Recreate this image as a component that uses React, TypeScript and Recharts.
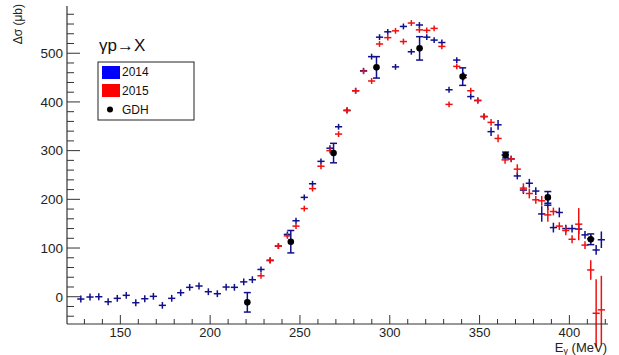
import { ScatterChart, Scatter, XAxis, YAxis, ErrorBar } from 'recharts';

const FONT = '"Liberation Sans", Arial, Helvetica, sans-serif';

// photon energy bins (MeV), shared by both beam times
const energies = [
  128.0, 133.1, 138.0, 143.2, 148.3, 153.3, 158.6, 163.6, 168.4, 173.4,
  178.6, 183.6, 188.6, 193.8, 199.0, 204.0, 208.9, 213.5, 218.7, 223.5,
  228.3, 233.4, 238.0, 243.0, 247.8, 252.4, 257.0, 261.7, 266.7, 271.5,
  276.2, 281.0, 285.4, 289.9, 294.3, 298.9, 303.2, 307.6, 312.0, 316.5,
  320.6, 324.7, 329.0, 333.0, 337.3, 341.0, 345.1, 349.0, 352.5, 356.4,
  360.3, 364.2, 367.6, 371.0, 374.4, 377.7, 381.3, 384.6, 388.0, 391.1,
  394.4, 398.0, 401.5, 405.2, 408.7, 411.9, 414.9, 417.8,
];

const sigma2014 = [
  -4.7, -0.6, 0, -10.3, -3.3, 2.9, -12.3, -4.1, 0.8, -17.7,
  -3.3, 8.2, 19.3, 22, 10.3, 6.2, 19.9, 19.3, 30.5, 35,
  56, 75, 104, 128, 156, 204, 232, 278, 305, 349,
  383, 423, 464, 493, 533, 544, 472, 555, 503, 558,
  533, 527, 522, 425, 486, 455, 411, 403, 370, 339,
  353, 291, 283, 248, 219, 233, 217, 170, 188, 142,
  173, 140, 140, 139, 127, 119, 96, 117,
];
const err2014 = [
  7, 7, 7, 7, 7, 7, 7, 7, 7, 7,
  7, 7, 7, 7, 7, 7, 7, 7, 7, 7,
  6, 6, 6, 6, 6, 6, 6, 6, 6, 6,
  6, 6, 6, 6, 6, 6, 6, 6, 6, 6,
  6, 6, 6, 6, 6, 6, 6, 6, 6, 9,
  10, 6, 6, 7, 8, 9, 8, 16, 10, 10,
  10, 8, 8, 10, 8, 8, 10, 17,
];

// 2015 starts at the 21st energy bin
const first2015 = 20;
const sigma2015 = [
  43, 74, 104, 125, 145, 181, 222, 268, 300, 334,
  382, 423, 463, 443, 519, 532, 546, 524, 562, 548,
  547, 551, 514, 395, 473, 450, 423, 403, 370, 358,
  325, 281, 283, 262, 223, 212, 199, 197, 168, 175,
  145, 136, 118, 149, 106, 55, -34, -27,
];
const err2015 = [
  6, 6, 6, 6, 6, 6, 6, 6, 6, 6,
  6, 6, 6, 6, 6, 6, 6, 6, 6, 6,
  6, 6, 6, 6, 6, 6, 6, 6, 6, 7,
  8, 8, 7, 10, 10, 10, 8, 10, 14, 8,
  8, 10, 8, 33, 8, 20, 70, 70,
];

const gdhE = [220.7, 244.9, 268.7, 292.6, 316.6, 340.6, 364.5, 388.0, 411.9];
const gdhSigma = [-11.5, 113, 295, 471, 510, 452, 291, 204, 118];
const gdhErr = [20, 23, 20, 22, 24, 18, 6, 12, 11];

const binHalfWidth = 2;

const xTicks = [130, 140, 150, 160, 170, 180, 190, 200, 210, 220, 230, 240, 250, 260, 270, 280, 290, 300, 310, 320, 330, 340, 350, 360, 370, 380, 390, 400, 410, 420];
const xLabels = [150, 200, 250, 300, 350, 400];
const yTicks = [-40, -20, 0, 20, 40, 60, 80, 100, 120, 140, 160, 180, 200, 220, 240, 260, 280, 300, 320, 340, 360, 380, 400, 420, 440, 460, 480, 500, 520, 540, 560, 580];
const yLabels = [0, 100, 200, 300, 400, 500];

const data2014 = energies.map((e, i) => ({ e, v: sigma2014[i], ey: err2014[i], ex: binHalfWidth }));
const data2015 = sigma2015.map((v, i) => ({ e: energies[first2015 + i], v, ey: err2015[i], ex: binHalfWidth }));
const dataGdh = gdhE.map((e, i) => ({ e, v: gdhSigma[i], ey: gdhErr[i] }));

const AXIS = '#333';

function XTick({ x, y, payload }: any) {
  const major = xLabels.includes(payload.value);
  return (
    <g>
      <line x1={x} x2={x} y1={y} y2={y - (major ? 9 : 5)} stroke={AXIS} strokeWidth={1} />
      {major && (
        <text x={x} y={y + 13} textAnchor="middle" fontSize={13} fontFamily={FONT} fill="#222">
          {payload.value}
        </text>
      )}
    </g>
  );
}

function YTick({ x, y, payload }: any) {
  const major = yLabels.includes(payload.value);
  return (
    <g>
      <line x1={x} x2={x + (major ? 13 : 7)} y1={y} y2={y} stroke={AXIS} strokeWidth={1} />
      {major && (
        <text x={x - 4} y={y} dy="0.36em" textAnchor="end" fontSize={13.5} fontFamily={FONT} fill="#222">
          {payload.value}
        </text>
      )}
    </g>
  );
}

const noMarker = () => <g />;
const gdhDot = ({ cx, cy }: any) => <circle cx={cx} cy={cy} r={3.3} fill="#000" />;

export default function App() {
  return (
    <div style={{ position: 'absolute', left: 0, top: 0, width: 619, height: 355, background: '#fff' }}>
      <ScatterChart width={619} height={355} margin={{ top: 6, right: 11, bottom: 0, left: 0 }}>
        <XAxis
          type="number"
          dataKey="e"
          domain={[120.3, 421.5]}
          ticks={xTicks}
          interval={0}
          tickSize={0}
          tickMargin={0}
          tickLine={false}
          tick={XTick}
          height={31}
          axisLine={{ stroke: AXIS, strokeWidth: 1.2 }}
        />
        <XAxis xAxisId="top" orientation="top" type="number" domain={[120.3, 421.5]} height={0} tick={false} tickLine={false} axisLine={{ stroke: AXIS, strokeWidth: 1.2 }} />
        <YAxis
          type="number"
          dataKey="v"
          domain={[-56, 597]}
          allowDataOverflow
          ticks={yTicks}
          interval={0}
          tickSize={0}
          tickMargin={0}
          tickLine={false}
          tick={YTick}
          width={67}
          axisLine={{ stroke: AXIS, strokeWidth: 1.2 }}
        />
        <YAxis yAxisId="right" orientation="right" type="number" domain={[-56, 597]} width={0} tick={false} tickLine={false} axisLine={{ stroke: AXIS, strokeWidth: 1.2 }} />

        <Scatter data={data2014} shape={noMarker} isAnimationActive={false}>
          <ErrorBar dataKey="ey" direction="y" width={0} stroke="#10108a" strokeWidth={1.5} isAnimationActive={false} />
          <ErrorBar dataKey="ex" direction="x" width={0} stroke="#10108a" strokeWidth={1.5} isAnimationActive={false} />
        </Scatter>
        <Scatter data={data2015} shape={noMarker} isAnimationActive={false}>
          <ErrorBar dataKey="ey" direction="y" width={0} stroke="#f01010" strokeWidth={1.5} isAnimationActive={false} />
          <ErrorBar dataKey="ex" direction="x" width={0} stroke="#f01010" strokeWidth={1.5} isAnimationActive={false} />
        </Scatter>
        <Scatter data={dataGdh} shape={gdhDot} isAnimationActive={false}>
          <ErrorBar dataKey="ey" direction="y" width={3.5} stroke="#10108a" strokeWidth={1.5} isAnimationActive={false} />
        </Scatter>
      </ScatterChart>

      <svg width={619} height={355} style={{ position: 'absolute', left: 0, top: 0, pointerEvents: 'none' }}>
        <text transform="translate(22,4) rotate(-90)" textAnchor="end" fontSize={12} fontFamily={FONT} fill="#222">
          Δσ (μb)
        </text>
        <text x={607} y={351.5} textAnchor="end" fontSize={13} fontFamily={FONT} fill="#222">
          E<tspan fontSize={9} dy={2}>γ</tspan><tspan dy={-2}> (MeV)</tspan>
        </text>
        <text x={99} y={51} fontSize={17} fontFamily={FONT} fill="#111">γp→X</text>

        <rect x={98} y={62} width={96} height={58} fill="#fff" stroke="#222" strokeWidth={1} />
        <rect x={102} y={66} width={18} height={13} fill="#0000ff" />
        <text x={122} y={76} fontSize={12} fontFamily={FONT} fill="#111">2014</text>
        <rect x={102} y={84} width={18} height={13} fill="#ff0000" />
        <text x={122} y={95} fontSize={12} fontFamily={FONT} fill="#111">2015</text>
        <circle cx={110} cy={109.5} r={3} fill="#000" />
        <text x={122} y={114} fontSize={12} fontFamily={FONT} fill="#111">GDH</text>
      </svg>
    </div>
  );
}
